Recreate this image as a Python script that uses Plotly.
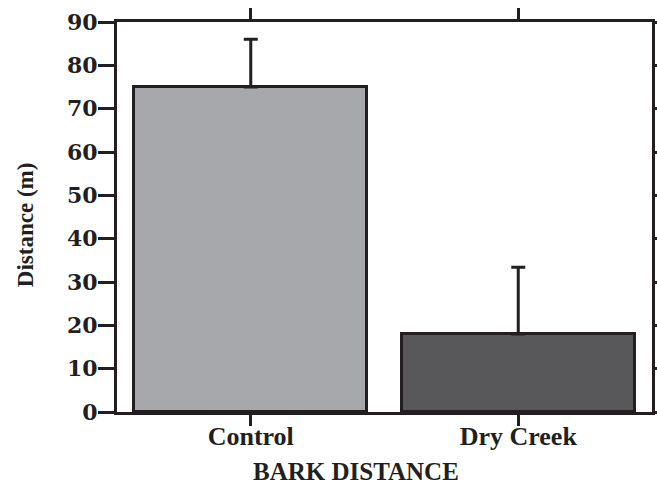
import plotly.graph_objects as go

categories = ["Control", "Dry Creek"]
means = [75, 18]
errors_up = [11, 15.4]
errors_down = [0, 0]
bar_colors = ["#a7a8ac", "#58585a"]
y_ticks = [0, 10, 20, 30, 40, 50, 60, 70, 80, 90]
x_title = "BARK DISTANCE"
y_title = "Distance (m)"

ink = "#231f20"

fig = go.Figure()
fig.add_trace(go.Bar(
    x=categories,
    y=means,
    width=0.87,
    marker=dict(color=bar_colors, line=dict(color=ink, width=3)),
    error_y=dict(type="data", symmetric=False, array=errors_up, arrayminus=errors_down,
                 color=ink, thickness=3, width=7),
    showlegend=False,
))

fig.update_layout(
    width=657, height=485,
    margin=dict(l=117, r=5, t=21.5, b=72.5, autoexpand=False),
    paper_bgcolor="white", plot_bgcolor="white",
    bargap=0,
    xaxis=dict(
        range=[-0.5, 1.5], automargin=False,
        showline=True, linecolor=ink, linewidth=3, mirror="ticks",
        ticks="outside", ticklen=11, tickwidth=3, tickcolor=ink,
        showgrid=False, zeroline=False, ticklabelstandoff=-12,
        tickfont=dict(family="Liberation Serif", size=26, color=ink, weight="bold"),
    ),
    yaxis=dict(
        range=[0, 90], tickvals=y_ticks, automargin=False,
        showline=True, linecolor=ink, linewidth=3, mirror="ticks",
        ticks="outside", ticklen=16, tickwidth=3, tickcolor=ink,
        showgrid=False, zeroline=False, ticklabelstandoff=-4,
        tickfont=dict(family="DejaVu Serif", size=22, color=ink, weight="bold"),
    ),
    annotations=[
        dict(text=x_title, xref="paper", yref="paper", x=0.4467, y=0,
             xanchor="center", yanchor="middle", yshift=-59, showarrow=False,
             font=dict(family="Liberation Serif", size=25, color=ink, weight="bold")),
        dict(text=y_title, xref="paper", yref="paper", x=0, y=0.479,
             xanchor="center", yanchor="middle", xshift=-92, textangle=-90, showarrow=False,
             font=dict(family="Liberation Serif", size=23, color=ink, weight="bold")),
    ],
)

fig.write_html(
    "out.html",
    config={"displayModeBar": False},
    post_script="document.body.style.margin='0px'; document.body.style.overflow='hidden';",
)
